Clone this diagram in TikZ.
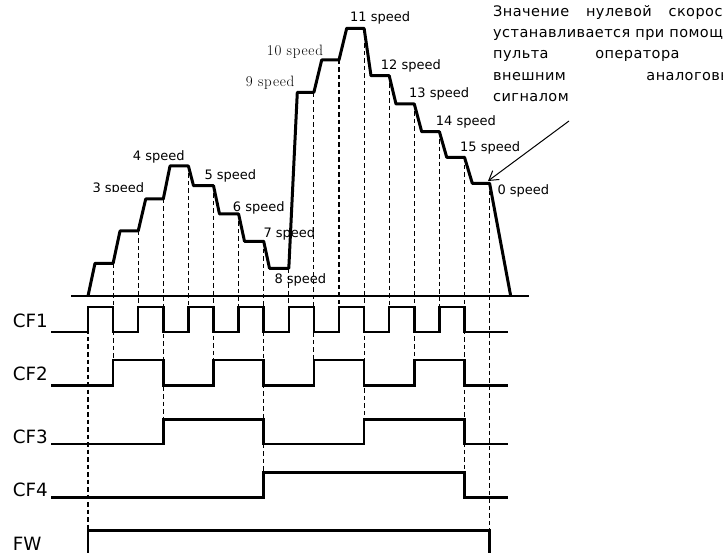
\documentclass[tikz,border=0pt]{standalone}
\usepackage{fontspec}
\setmainfont{DejaVu Sans}
\newfontfamily\rufont[LetterSpace=3]{DejaVu Sans}
\newfontfamily\serifsp[LetterSpace=5]{Latin Modern Roman}
\usetikzlibrary{arrows.meta}
\begin{document}
\begin{tikzpicture}[x=1pt,y=-1pt,
  wave/.style={line width=2.5pt, line join=miter},
  prof/.style={line width=3pt, line join=round},
  axisline/.style={line width=2pt},
  guide/.style={line width=1.1pt, dash pattern=on 4.5pt off 3pt},
  spd/.style={anchor=base west, inner sep=0pt, font=\fontsize{13}{15}\selectfont},
  spdserif/.style={anchor=base west, inner sep=0pt, font=\serifsp\fontsize{15}{17}\selectfont},
  sig/.style={anchor=base west, inner sep=0pt, font=\fontsize{18.3}{20}\selectfont},
  ru/.style={anchor=base west, inner sep=0pt, font=\rufont\fontsize{14.5}{17}\selectfont},
  pointer/.style={line width=1pt, -{Straight Barb[length=9pt,width=11pt]}}]
\useasboundingbox (0,0) rectangle (723,553);

% dashed guide lines
\draw[guide] (88,307) -- (88,530.7);
\draw[guide] (113.1,263.3) -- (113.1,360);
\draw[guide] (138.2,231) -- (138.2,307);
\draw[guide] (163.3,199) -- (163.3,419.3);
\draw[guide] (188.4,166) -- (188.4,307);
\draw[guide] (213.5,185.7) -- (213.5,360);
\draw[guide] (238.6,214) -- (238.6,307);
\draw[guide] (263.7,241.3) -- (263.7,472.3);
\draw[guide] (288.8,268.3) -- (288.8,307);
\draw[guide] (313.9,92.3) -- (313.9,360);
\draw[guide] (339,60) -- (339,307);
\draw[guide] (364.1,28.3) -- (364.1,419.3);
\draw[guide] (389.2,75.7) -- (389.2,307);
\draw[guide] (414.3,104) -- (414.3,360);
\draw[guide] (439.4,131.7) -- (439.4,307);
\draw[guide] (464.5,157.3) -- (464.5,472.3);
\draw[guide] (489.6,183.3) -- (489.6,530.7);

% axis
\draw[axisline] (71,296) -- (529,296);

% speed profile
\draw[prof] (88,296) -- (95,263.3) -- (113.1,263.3) -- (120,231) -- (138.2,231)
  -- (145.7,199) -- (163.3,199) -- (170,166) -- (188.4,166) -- (193.5,185.7)
  -- (213.5,185.7) -- (219.5,214) -- (238.6,214) -- (244.5,241.3) -- (263.7,241.3)
  -- (269.5,268.3) -- (288.8,268.3) -- (297.3,92.3) -- (313.9,92.3) -- (321.7,60)
  -- (339,60) -- (346.7,28.3) -- (364.1,28.3) -- (371,75.7) -- (389.2,75.7)
  -- (396,104) -- (414.3,104) -- (421.7,131.7) -- (439.4,131.7) -- (446.7,157.3)
  -- (464.5,157.3) -- (472.3,183.3) -- (489.6,183.3) -- (510.7,296);

% signals
\draw[wave] (51,332) -- (88,332) -- (88,307) -- (113.1,307) -- (113.1,332) -- (138.2,332)
  -- (138.2,307) -- (163.3,307) -- (163.3,332) -- (188.4,332) -- (188.4,307) -- (213.5,307)
  -- (213.5,332) -- (238.6,332) -- (238.6,307) -- (263.7,307) -- (263.7,332) -- (288.8,332)
  -- (288.8,307) -- (313.9,307) -- (313.9,332) -- (339,332) -- (339,307) -- (364.1,307)
  -- (364.1,332) -- (389.2,332) -- (389.2,307) -- (414.3,307) -- (414.3,332) -- (439.4,332)
  -- (439.4,307) -- (464.5,307) -- (464.5,332) -- (508,332);
\draw[wave] (51,385.3) -- (113.1,385.3) -- (113.1,360) -- (163.3,360) -- (163.3,385.3)
  -- (213.5,385.3) -- (213.5,360) -- (263.7,360) -- (263.7,385.3) -- (313.9,385.3)
  -- (313.9,360) -- (364.1,360) -- (364.1,385.3) -- (414.3,385.3) -- (414.3,360)
  -- (464.5,360) -- (464.5,385.3) -- (508,385.3);
\draw[wave] (51,444) -- (163.3,444) -- (163.3,419.3) -- (263.7,419.3) -- (263.7,444)
  -- (364.1,444) -- (364.1,419.3) -- (464.5,419.3) -- (464.5,444) -- (508,444);
\draw[wave] (51,497.3) -- (263.7,497.3) -- (263.7,472.3) -- (464.5,472.3) -- (464.5,497.3) -- (508,497.3);
\draw[wave] (88,556) -- (88,530.7) -- (489.6,530.7) -- (489.6,556);

% signal labels
\node[sig] (cf1) at (12.7,327) {CF1};
\node[sig] (cf2) at (12.7,381) {CF2};
\node[sig] (cf3) at (12.7,443) {CF3};
\node[sig] (cf4) at (12.7,496) {CF4};
\node[sig] (fw) at (12.7,550) {FW};

% speed labels
\begin{scope}
  \clip (80,170) rectangle (160,191.3);
  \node[spd] (s3) at (92.3,193) {3 speed};
\end{scope}
\node[spd] (s4) at (132.7,160.7) {4 speed};
\node[spd] (s5) at (204.3,180) {5 speed};
\node[spd] (s6) at (232.7,211.7) {6 speed};
\node[spd] (s7) at (263.3,238) {7 speed};
\node[spd] (s8) at (274.3,284) {8 speed};
\node[spdserif] (s9) at (245.7,87) {9 speed};
\node[spdserif] (s10) at (266.7,55.3) {10 speed};
\node[spd] (s11) at (350,22) {11 speed};
\node[spd] (s12) at (380.7,70) {12 speed};
\node[spd] (s13) at (409,98) {13 speed};
\node[spd] (s14) at (435.7,126) {14 speed};
\node[spd] (s15) at (460,152) {15 speed};
\node[spd] (s0) at (497.3,195) {0 speed};

% note
\begin{scope}
  \clip (480,0) rectangle (723,110);
  \node[ru] (note1) at (493,16.5) {\hbox to 248pt{Значение\hfil нулевой\hfil скорости}};
  \node[ru] (note2) at (493,37.75) {устанавливается при помощи};
  \node[ru] (note3) at (493,59) {\hbox to 262pt{пульта\hfil оператора\hfil или}};
  \node[ru] (note4) at (493,80.25) {\hbox to 250pt{внешним\hfil аналоговым}};
  \node[ru] (note5) at (493,101.5) {сигналом};
\end{scope}

\coordinate (arrowstart) at (569,121);
\coordinate (zerotip) at (488,181);
\draw[pointer] (arrowstart) -- (zerotip);
\end{tikzpicture}
\end{document}
